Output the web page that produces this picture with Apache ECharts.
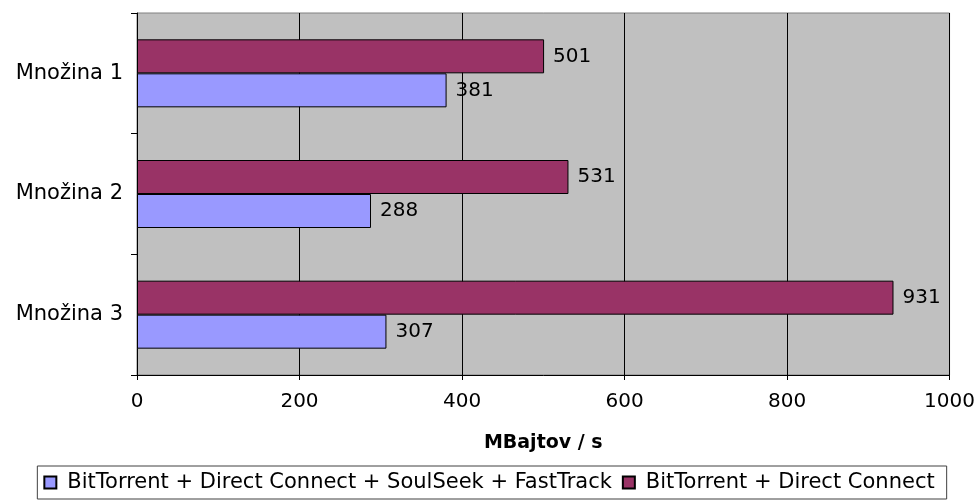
<!DOCTYPE html>
<html>
<head>
<meta charset="utf-8">
<script src="https://cdn.jsdelivr.net/npm/echarts@6/dist/echarts.min.js"></script>
<style>
  html, body { margin: 0; padding: 0; background: #ffffff; }
  #chart { width: 978px; height: 500px; }
</style>
</head>
<body>
<div id="chart"></div>
<script>
// Categories (top to bottom) and throughput values in MB/s
const categories = ['Množina 1', 'Množina 2', 'Množina 3'];
const seriesNames = [
  'BitTorrent + Direct Connect + SoulSeek + FastTrack',
  'BitTorrent + Direct Connect'
];
const allNetworks = [381, 288, 307];
const btDc = [501, 531, 931];
const xTicks = { min: 0, max: 1000, interval: 200 };
const axisTitle = 'MBajtov / s';

const font = 'DejaVu Sans, Liberation Sans, Arial, sans-serif';
const chart = echarts.init(document.getElementById('chart'));

const labelStyle = {
  show: true,
  position: 'right',
  distance: 9,
  color: '#000',
  fontFamily: font,
  fontSize: 20
};

chart.setOption({
  animation: false,
  textStyle: { fontFamily: font },
  grid: {
    left: 137, right: 28, top: 13, bottom: 125,
    show: true,
    backgroundColor: '#c0c0c0',
    borderColor: '#808080',
    borderWidth: 1
  },
  xAxis: {
    type: 'value',
    min: xTicks.min, max: xTicks.max, interval: xTicks.interval,
    axisLine: { show: true, lineStyle: { color: '#000', width: 1 } },
    axisTick: { show: true, length: 5, lineStyle: { color: '#000' } },
    splitLine: { show: true, lineStyle: { color: '#000', width: 1 } },
    axisLabel: {
      color: '#000', fontSize: 20, fontFamily: font, margin: 17,
      formatter: v => String(v)
    },
    name: axisTitle,
    nameLocation: 'middle',
    nameGap: 59,
    nameTextStyle: { color: '#000', fontSize: 19, fontWeight: 'bold', fontFamily: font }
  },
  yAxis: {
    type: 'category',
    inverse: true,
    data: categories,
    axisLine: { show: true, lineStyle: { color: '#000', width: 1 } },
    axisTick: { show: true, length: 6, alignWithLabel: false, lineStyle: { color: '#000' } },
    axisLabel: { color: '#000', fontSize: 21, fontFamily: font, margin: 14 },
    splitLine: { show: false }
  },
  legend: {
    data: seriesNames,
    left: 'center', top: 466,
    padding: [6, 12, 6, 6],
    itemGap: 10,
    itemWidth: 12, itemHeight: 12,
    icon: 'rect',
    borderColor: '#404040',
    borderWidth: 1,
    textStyle: { color: '#000', fontSize: 21, fontFamily: font, padding: [0, 0, 0, 6] }
  },
  series: [
    {
      name: seriesNames[1],
      type: 'bar',
      data: btDc,
      barWidth: 34,
      barGap: '0%',
      itemStyle: { color: '#993366', borderColor: '#000', borderWidth: 1 },
      label: labelStyle
    },
    {
      name: seriesNames[0],
      type: 'bar',
      data: allNetworks,
      barWidth: 34,
      barGap: '0%',
      itemStyle: { color: '#9999ff', borderColor: '#000', borderWidth: 1 },
      label: labelStyle
    }
  ]
});
</script>
</body>
</html>
